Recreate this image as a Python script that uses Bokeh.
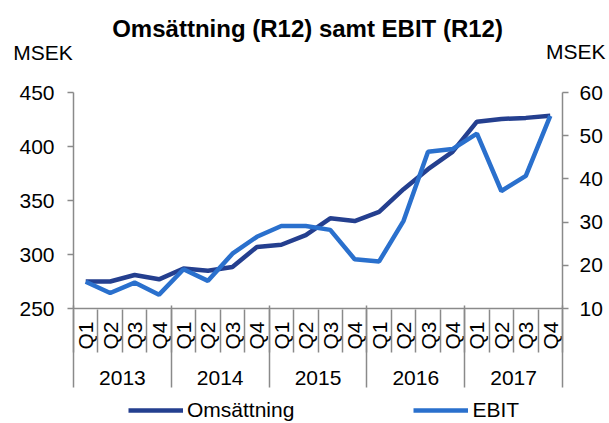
import math
from bokeh.plotting import figure
from bokeh.layouts import column
from bokeh.models import (Range1d, LinearAxis, FixedTicker, Legend, LegendItem, Label,
                          ColumnDataSource)
from bokeh.embed import file_html
from bokeh.resources import INLINE

# ---- data ----
years = ["2013", "2014", "2015", "2016", "2017"]
quarters = ["Q1", "Q2", "Q3", "Q4"]
omsattning = [275, 275, 281, 277, 287, 285, 288.5, 307, 309, 318, 333.5, 331,
              339.5, 360.5, 379, 395, 423, 425.5, 426.5, 428.5]
ebit = [16.2, 13.6, 16.0, 13.2, 19.1, 16.4, 22.7, 26.6, 29.1, 29.1, 28.2, 21.4,
        20.9, 30.3, 46.3, 46.9, 50.5, 37.2, 40.7, 54.6]
left_ticks = [250, 300, 350, 400, 450]
right_ticks = [10, 20, 30, 40, 50, 60]
series_names = ["Omsättning", "EBIT"]
title_text = "Omsättning (R12) samt EBIT (R12)"
unit_text = "MSEK"

FONT = "Liberation Sans"
GRAY = "#8a8a8a"
DARK = "#243F8F"
LIGHT = "#2A70CD"
W = 609
TOP_H = 64
MAIN_H = 326
BOT_H = 423 - TOP_H - MAIN_H
LEFT_B, RIGHT_B = 73, 47


def bare(fig):
    fig.grid.visible = False
    fig.outline_line_color = None
    return fig


def strip(h, yr):
    fig = bare(figure(width=W, height=h, y_range=yr, x_range=Range1d(0, W),
                      x_axis_location=None, y_axis_location=None, output_backend="svg",
                      toolbar_location=None, min_border=0))
    if "frame_align" in fig.properties():
        fig.frame_align = False
    else:  # frames get aligned with the main chart: map page pixels onto that frame
        fig.x_range = Range1d(LEFT_B, W - RIGHT_B)
    return fig


# ---- header strip (title and unit labels) ----
top = strip(TOP_H, Range1d(TOP_H, 0))
top.add_layout(Label(x=111.7, y=28.4, text=title_text, text_font=FONT,
                     text_font_size="24px", text_font_style="bold", text_align="left",
                     text_baseline="middle", text_color="black"))
top.add_layout(Label(x=12.7, y=52.0, text=unit_text, text_font=FONT, text_font_size="21px",
                     text_align="left", text_baseline="middle", text_color="black"))
top.add_layout(Label(x=605, y=51.2, text=unit_text, text_font=FONT, text_font_size="21px",
                     text_align="right", text_baseline="middle", text_color="black"))

# ---- main chart ----
n = len(years) * len(quarters)
xs = [i + 0.5 for i in range(n)]
qlabels = [q for y in years for q in quarters]
src = ColumnDataSource(dict(x=xs, oms=omsattning, ebit=ebit))

p = bare(figure(width=W, height=MAIN_H, x_range=Range1d(0, n), y_range=Range1d(250, 450),
                x_axis_location=None, y_axis_location=None,
                output_backend="svg", toolbar_location=None,
                min_border_left=LEFT_B, min_border_right=RIGHT_B, min_border_top=92 - TOP_H,
                min_border_bottom=82))
p.extra_y_ranges = {"ebit": Range1d(10, 60)}


def style_axis(ax):
    ax.axis_line_color = GRAY
    ax.axis_line_width = 1.5
    ax.major_tick_line_color = GRAY
    ax.major_tick_line_width = 1.5
    ax.minor_tick_line_color = GRAY
    ax.minor_tick_line_width = 1.5
    ax.major_label_text_font = FONT
    ax.major_label_text_font_size = "21px"
    ax.major_label_text_color = "black"
    ax.minor_tick_in = 0
    ax.minor_tick_out = 0


yl = LinearAxis(ticker=FixedTicker(ticks=left_ticks, minor_ticks=[]))
style_axis(yl)
yl.major_tick_in = 0
yl.major_tick_out = 6
yl.major_label_standoff = 13
p.add_layout(yl, "left")

yr = LinearAxis(y_range_name="ebit", ticker=FixedTicker(ticks=right_ticks, minor_ticks=[]))
style_axis(yr)
yr.major_tick_in = 0
yr.major_tick_out = 6
yr.major_label_standoff = 11
p.add_layout(yr, "right")

# quarter labels (this axis carries the x axis line)
xa = LinearAxis(ticker=FixedTicker(ticks=xs, minor_ticks=[]))
style_axis(xa)
xa.major_tick_in = 0
xa.major_tick_out = 0
xa.major_label_standoff = 13
xa.major_label_orientation = math.pi / 2
xa.major_label_overrides = {x: q for x, q in zip(xs, qlabels)}
p.add_layout(xa, "below")

# year labels; minor ticks reach up as quarter separators
ycenters = [4 * i + 2 for i in range(len(years))]
xb = LinearAxis(ticker=FixedTicker(ticks=ycenters, minor_ticks=list(range(n + 1))))
style_axis(xb)
xb.axis_line_color = None
xb.major_tick_in = 0
xb.major_tick_out = 0
xb.minor_tick_in = 43
xb.minor_tick_out = 0
xb.major_label_standoff = 18
xb.major_label_overrides = {c: y for c, y in zip(ycenters, years)}
p.add_layout(xb, "below")

# year separators reaching up to the x axis line
xc = LinearAxis(ticker=FixedTicker(ticks=[], minor_ticks=list(range(0, n + 1, 4))))
style_axis(xc)
xc.axis_line_color = None
xc.major_tick_in = 0
xc.major_tick_out = 0
xc.minor_tick_in = 82
xc.minor_tick_out = 0
p.add_layout(xc, "below")

p.line("x", "oms", source=src, line_color=DARK, line_width=4.5)
p.line("x", "ebit", source=src, y_range_name="ebit", line_color=LIGHT, line_width=4.5)

# ---- legend strip (proxy lines lie outside its view; only their legend keys show) ----
bot = strip(BOT_H, Range1d(1000, 1000 + BOT_H))
k1 = bot.line(xs, omsattning, line_color=DARK, line_width=4.5)
k2 = bot.line(xs, ebit, line_color=LIGHT, line_width=4.5)
legend = Legend(items=[LegendItem(label=series_names[0], renderers=[k1]),
                       LegendItem(label=series_names[1], renderers=[k2])],
                orientation="horizontal", location=(128, 1),
                glyph_width=55, glyph_height=20, label_standoff=4, spacing=119,
                padding=0, margin=0, border_line_color=None, background_fill_alpha=0,
                label_text_font=FONT, label_text_font_size="21px", label_text_color="black")
bot.add_layout(legend)

layout = column(top, p, bot, spacing=0)
open("out.html", "w").write(file_html(layout, INLINE))
